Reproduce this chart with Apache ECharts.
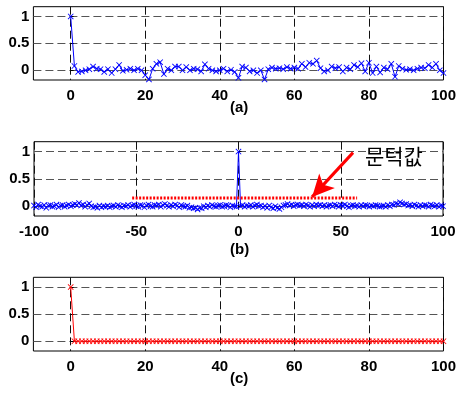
<!DOCTYPE html>
<html><head><meta charset="utf-8">
<script src="https://cdn.jsdelivr.net/npm/echarts@6/dist/echarts.min.js"></script>
<style>html,body{margin:0;padding:0;background:#fff}#c{width:459px;height:400px}</style>
</head><body><div id="c"></div>
<script>
// ---- data ----
const xTicksA = [0, 20, 40, 60, 80, 100];
const xTicksB = [-100, -50, 0, 50, 100];
const yTicks = [0, 0.5, 1];
const panelLabels = ['(a)', '(b)', '(c)'];
const thresholdText = '문턱값';

// (a) x = 0..100
const aValues = [
  1.00, 0.08, -0.03, -0.02, 0.00, 0.02, 0.07, 0.03, 0.02, -0.03,
  0.02, -0.05, 0.02, 0.10, -0.01, 0.01, 0.03, 0.00, 0.03, 0.00,
  -0.09, -0.17, 0.03, 0.12, 0.15, -0.07, 0.03, 0.00, 0.07, 0.07,
  0.00, 0.06, 0.00, 0.03, 0.02, -0.02, 0.11, 0.03, 0.00, -0.02,
  0.00, 0.03, -0.02, 0.01, -0.03, -0.14, 0.07, 0.05, -0.02, 0.00,
  -0.05, 0.00, -0.17, 0.02, 0.05, 0.03, 0.04, 0.02, 0.06, 0.03,
  0.05, 0.03, 0.12, 0.06, 0.14, 0.12, 0.18, 0.04, -0.02, 0.00,
  0.07, 0.04, 0.06, -0.02, 0.05, 0.02, 0.10, 0.06, 0.13, -0.02,
  0.14, -0.05, 0.07, -0.04, 0.05, 0.02, 0.12, -0.12, 0.08, 0.03,
  0.01, 0.02, 0.00, 0.03, 0.05, 0.04, 0.10, 0.05, 0.12, 0.00,
  -0.05
];
// (b) x = -100..100
const bValues = [
  0.01, -0.02, 0.03, 0.00, -0.01, 0.02, -0.03, 0.01, 0.02, -0.01,
  0.00, 0.03, -0.02, 0.01, 0.02, -0.01, 0.01, 0.03, 0.00, 0.02,
  0.04, 0.02, 0.06, 0.01, 0.03, -0.01, 0.02, 0.05, 0.00, -0.02,
  -0.01, -0.03, 0.01, -0.02, 0.00, -0.01, 0.01, -0.02, 0.00, 0.01,
  -0.01, 0.02, 0.00, -0.02, 0.01, 0.00, 0.02, -0.01, 0.01, 0.03,
  0.00, -0.01, 0.02, 0.01, -0.02, 0.01, 0.03, 0.00, -0.01, 0.02,
  0.01, 0.03, -0.01, 0.02, 0.04, 0.01, -0.01, 0.02, 0.00, 0.03,
  0.01, -0.02, 0.02, 0.00, -0.01, 0.01, -0.03, -0.02, -0.04, -0.03,
  -0.06, -0.03, -0.04, 0.00, -0.02, 0.01, -0.01, 0.02, 0.00, -0.01,
  0.01, 0.02, -0.01, 0.00, 0.02, 0.01, -0.02, 0.01, 0.00, -0.01,
  1.00,
  0.00, 0.02, -0.01, 0.01, 0.00, 0.02, -0.01, 0.01, 0.03, 0.00,
  0.01, -0.02, 0.00, -0.03, 0.01, -0.02, -0.04, 0.00, -0.03, -0.05,
  -0.02, 0.01, 0.02, 0.04, 0.01, 0.03, 0.00, 0.02, 0.03, 0.01,
  0.02, 0.00, 0.03, 0.01, -0.01, 0.02, 0.00, 0.03, 0.01, 0.02,
  0.00, 0.02, -0.01, 0.01, 0.02, 0.00, 0.03, 0.01, -0.01, 0.02,
  0.01, 0.03, 0.00, -0.02, 0.01, 0.02, 0.00, 0.01, -0.01, 0.02,
  0.00, 0.02, 0.01, -0.01, 0.01, 0.00, 0.02, 0.01, -0.01, 0.00,
  0.01, -0.01, 0.02, 0.00, 0.03, 0.02, 0.05, 0.04, 0.07, 0.05,
  0.03, 0.04, 0.01, 0.02, 0.00, 0.03, 0.01, -0.01, 0.02, 0.00,
  0.02, 0.01, -0.01, 0.03, 0.01, 0.00, 0.02, -0.01, 0.01, 0.00
];
// threshold line in (b)
const thrX = [-52, 58];
const thrY = [0.15, 0.15];
// arrow annotation (data coords: from, to) and label anchor
const arrowFrom = [56, 0.98];
const arrowTo = [36, 0.17];
const textAt = [76, 0.92];
// (c) x = 0..100
const cValues = [
  1, 0, 0, 0, 0, 0, 0, 0, 0, 0,
  0, 0, 0, 0, 0, 0, 0, 0, 0, 0,
  0, 0, 0, 0, 0, 0, 0, 0, 0, 0,
  0, 0, 0, 0, 0, 0, 0, 0, 0, 0,
  0, 0, 0, 0, 0, 0, 0, 0, 0, 0,
  0, 0, 0, 0, 0, 0, 0, 0, 0, 0,
  0, 0, 0, 0, 0, 0, 0, 0, 0, 0,
  0, 0, 0, 0, 0, 0, 0, 0, 0, 0,
  0, 0, 0, 0, 0, 0, 0, 0, 0, 0,
  0, 0, 0, 0, 0, 0, 0, 0, 0, 0,
  0
];

// ---- chart ----
const xMark = 'path://M0,1L1,0L5,4L9,0L10,1L6,5L10,9L9,10L5,6L1,10L0,9L4,5Z';
const font = { fontFamily: 'Liberation Sans, Arial, sans-serif', fontWeight: 'bold', fontSize: 15, color: '#000' };

function xAxis(idx, min, max, ticks) {
  return {
    type: 'value', gridIndex: idx, min: min, max: max,
    axisLine: { show: false },
    axisTick: { show: true, inside: true, length: 3, customValues: ticks, lineStyle: { color: '#000' } },
    axisLabel: Object.assign({ margin: 8, customValues: ticks }, font),
    splitLine: { show: true, lineStyle: { type: [8, 4], color: '#111', width: 1 } }
  };
}
function yAxis(idx) {
  return {
    type: 'value', gridIndex: idx, min: -0.18, max: 1.18,
    axisLine: { show: false },
    axisTick: { show: true, inside: true, length: 3, customValues: yTicks, lineStyle: { color: '#000' } },
    axisLabel: Object.assign({ margin: 4, customValues: yTicks, formatter: v => String(v) }, font),
    splitLine: { show: true, lineStyle: { type: [8, 4], color: '#555', width: 1 } }
  };
}

const aData = aValues.map((v, i) => [i, v]);
const bData = bValues.map((v, i) => [i - 100, v]);
const cData = cValues.map((v, i) => [i, v]);
const thrData = thrX.map((x, i) => [x, thrY[i]]);

const chart = echarts.init(document.getElementById('c'), null, { renderer: 'canvas' });
chart.setOption({
  animation: false,
  backgroundColor: '#fff',
  grid: [
    { left: 33.4, top: 6.7, width: 410.5, height: 73.3, show: true, borderColor: '#000', borderWidth: 1, backgroundColor: 'transparent' },
    { left: 34, top: 141.7, width: 409, height: 74.3, show: true, borderColor: '#000', borderWidth: 1, backgroundColor: 'transparent' },
    { left: 33.4, top: 277.3, width: 410.5, height: 73.7, show: true, borderColor: '#000', borderWidth: 1, backgroundColor: 'transparent' }
  ],
  xAxis: [xAxis(0, -10, 100, xTicksA), xAxis(1, -100, 100, xTicksB), xAxis(2, -10, 100, xTicksA)],
  yAxis: [yAxis(0), yAxis(1), yAxis(2)],
  title: [
    { text: panelLabels[0], left: 230, top: 100, textStyle: font },
    { text: panelLabels[1], left: 230, top: 242, textStyle: font },
    { text: panelLabels[2], left: 230, top: 371, textStyle: font }
  ].map(t => Object.assign(t, { padding: 0 })),
  series: [
    {
      type: 'line', xAxisIndex: 0, yAxisIndex: 0, data: aData,
      symbol: xMark, symbolSize: 6, showSymbol: true,
      lineStyle: { color: '#0000ff', width: 1 }, itemStyle: { color: '#0000ff' }
    },
    {
      type: 'line', xAxisIndex: 1, yAxisIndex: 1, data: bData,
      symbol: xMark, symbolSize: 6, showSymbol: true,
      lineStyle: { color: '#0000ff', width: 1 }, itemStyle: { color: '#0000ff' }
    },
    {
      type: 'line', xAxisIndex: 1, yAxisIndex: 1, data: thrData, symbol: 'none', z: 5,
      lineStyle: { color: '#ff0000', width: 3, type: [2, 1.5] },
      markLine: {
        silent: true, symbol: ['none', 'arrow'], symbolSize: [16, 22],
        label: { show: false },
        lineStyle: { color: '#ff0000', width: 3, type: 'solid' },
        data: [[{ coord: arrowFrom }, { coord: arrowTo }]]
      },
      markPoint: {
        silent: true, symbol: 'circle', symbolSize: 0,
        label: { show: true, position: 'inside', formatter: thresholdText, fontFamily: 'Noto Sans CJK KR', fontSize: 21, color: '#000' },
        data: [{ coord: textAt }]
      }
    },
    {
      type: 'line', xAxisIndex: 2, yAxisIndex: 2, data: cData,
      symbol: xMark, symbolSize: 6, showSymbol: true,
      lineStyle: { color: '#ff0000', width: 1 }, itemStyle: { color: '#ff0000' }
    }
  ]
});
</script>
</body></html>
